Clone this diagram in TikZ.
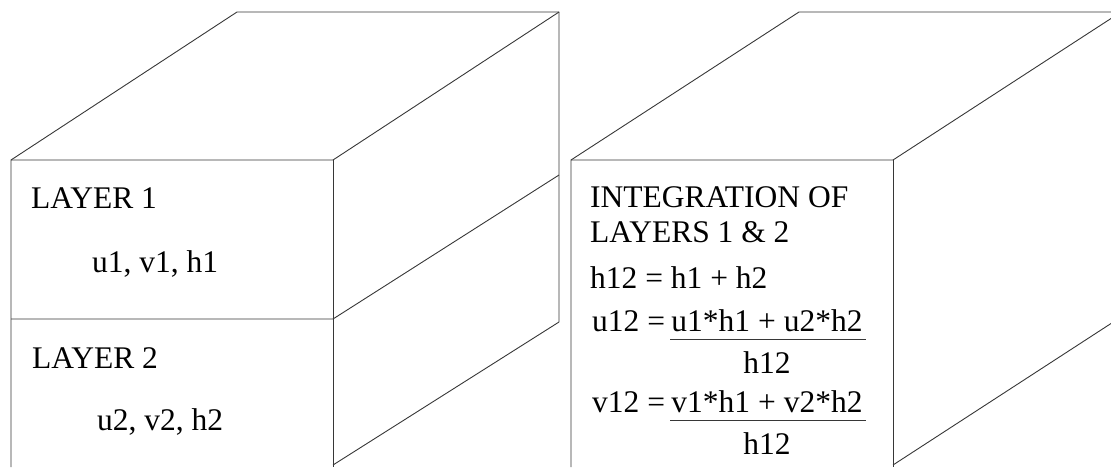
\documentclass[tikz,border=0pt]{standalone}
\usepackage{fontspec}
\setmainfont{Liberation Serif}
\usetikzlibrary{positioning,calc}
\definecolor{inkgray}{RGB}{55,55,55}

\begin{document}
\begin{tikzpicture}[x=1pt, y=-1pt,
    edge/.style={draw=inkgray, line width=0.9pt, line join=round},
    txt/.style={inner sep=0pt, anchor=base west, font=\fontsize{31.5}{38}\selectfont},
    fracpart/.style={inner sep=0pt, anchor=base, font=\fontsize{31.5}{38}\selectfont}
  ]
  \useasboundingbox (0,0) rectangle (1111,467);
  \clip (0,0) rectangle (1111,467);

  % left block: two layers
  \coordinate (lftl) at (11,160);
  \coordinate (lftr) at (333,160);
  \coordinate (lfml) at (11,319);
  \coordinate (lfmr) at (333,319);
  \coordinate (lfbl) at (11,467);
  \coordinate (lfbr) at (333,465);
  \coordinate (lbtl) at (237,12);
  \coordinate (lbtr) at (559,12);
  \coordinate (lbmr) at (559,175);
  \coordinate (lbbr) at (559,322);

  \draw[edge] (lfbl) -- (lftl) -- (lbtl) -- (lbtr) -- (lbbr);
  \draw[edge] (lftl) -- (lftr) -- (lbtr);
  \draw[edge] (lftr) -- (333,467);
  \draw[edge] (lfml) -- (lfmr) -- (lbmr);
  \draw[edge] (lfbr) -- (lbbr);

  % right block: integrated layer
  \coordinate (rftl) at (571,160);
  \coordinate (rftr) at (893,160);
  \coordinate (rfbl) at (571,467);
  \coordinate (rfbr) at (893,465);
  \coordinate (rbtl) at (799,12);
  \coordinate (rbtr) at (1121,12);
  \coordinate (rbbr) at (1121,317);

  \draw[edge] (rfbl) -- (rftl) -- (rbtl) -- (rbtr);
  \draw[edge] (rftl) -- (rftr) -- (rbtr);
  \draw[edge] (rftr) -- (893,467);
  \draw[edge] (rfbr) -- (rbbr);

  % layer texts
  \node[txt] (layer1) at (31,208) {LAYER 1};
  \node[txt] (vars1) at (92,272) {u1, v1, h1};
  \node[txt] (layer2) at (32,368) {LAYER 2};
  \node[txt] (vars2) at (97,430) {u2, v2, h2};

  % integration texts
  \node[txt] (integ) at (590,207) {INTEGRATION OF};
  \node[txt] (integb) at (590,242) {LAYERS 1 \& 2};
  \node[txt] (hsum) at (590,288) {h12 = h1 + h2};

  \node[txt] (ueq) at (592,331) {u12 =};
  \node[txt, base right=6pt of ueq] (unum) {u1*h1 + u2*h2};
  \draw[edge] ($(unum.base west)+(-1,8)$) -- ($(unum.base east)+(3,8)$);
  \node[fracpart] (uden) at ($(unum.base)+(0,42)$) {h12};

  \node[txt] (veq) at (592,412) {v12 =};
  \node[txt, base right=6pt of veq] (vnum) {v1*h1 + v2*h2};
  \draw[edge] ($(vnum.base west)+(-1,8)$) -- ($(vnum.base east)+(3,8)$);
  \node[fracpart] (vden) at ($(vnum.base)+(0,42)$) {h12};
\end{tikzpicture}
\end{document}
